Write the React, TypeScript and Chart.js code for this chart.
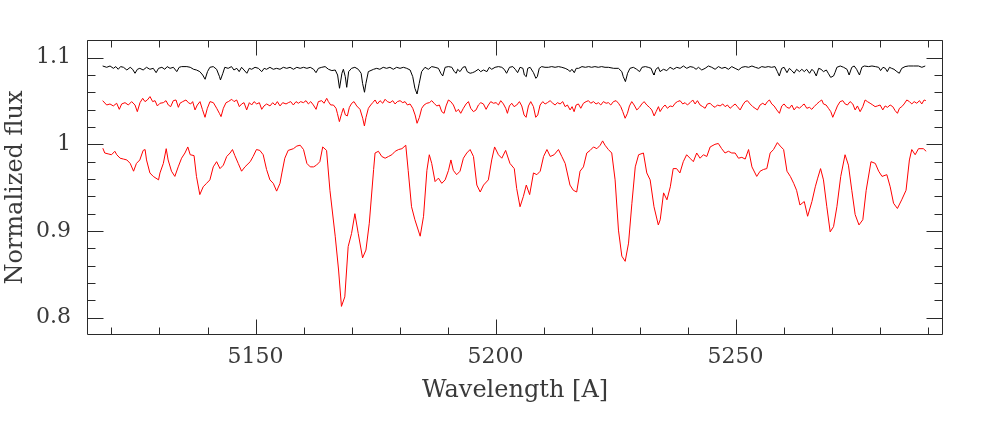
import React, { useEffect, useRef } from "react";
import { Chart, registerables } from "chart.js";

Chart.register(...registerables);

// Axis ticks
const xMajorTicks = [5150, 5200, 5250];
const xMinorTicks = [5120, 5130, 5140, 5160, 5170, 5180, 5190, 5210, 5220, 5230, 5240, 5260, 5270, 5280, 5290];
const yMajorTicks = [0.8, 0.9, 1.0, 1.1];
const yMinorTicks = [0.78, 0.82, 0.84, 0.86, 0.88, 0.92, 0.94, 0.96, 0.98, 1.02, 1.04, 1.06, 1.08, 1.12];
const xRange = [5114.9, 5293.2];
const yRange = [0.78, 1.1204];

// Template spectrum (black), [wavelength, flux]
const templateSpectrum: number[][] = [
  [5118.16, 1.0904], [5119.0, 1.0889], [5119.7, 1.0904], [5120.4, 1.0877], [5120.9, 1.0897], [5121.4, 1.0866], [5121.9, 1.0897], [5122.5, 1.0889], [5123.2, 1.0858], [5123.9, 1.0889],
  [5124.4, 1.0866], [5124.9, 1.082], [5125.4, 1.0866], [5125.9, 1.0877], [5126.6, 1.0858], [5127.3, 1.0889], [5128.0, 1.0866], [5128.7, 1.0877], [5129.3, 1.0827], [5129.8, 1.0877],
  [5130.5, 1.0889], [5131.1, 1.0866], [5131.6, 1.0897], [5132.2, 1.0877], [5132.9, 1.0889], [5133.6, 1.0839], [5134.1, 1.0889], [5134.6, 1.0897], [5135.7, 1.0897], [5136.4, 1.0889],
  [5137.1, 1.0866], [5137.7, 1.0858], [5138.4, 1.0839], [5139.0, 1.08], [5139.5, 1.0751], [5140.0, 1.0839], [5140.5, 1.0889], [5141.2, 1.0897], [5141.9, 1.0866], [5142.5, 1.0781],
  [5142.7, 1.0743], [5143.2, 1.082], [5143.6, 1.0889], [5144.3, 1.0877], [5145.0, 1.0897], [5145.5, 1.0858], [5146.1, 1.0877], [5146.6, 1.0839], [5147.1, 1.0889], [5147.6, 1.0858],
  [5148.2, 1.082], [5148.7, 1.0877], [5149.2, 1.0866], [5149.9, 1.0889], [5150.6, 1.0877], [5151.3, 1.0839], [5151.8, 1.0877], [5152.3, 1.0866], [5153.0, 1.0889], [5153.7, 1.0866],
  [5154.4, 1.0877], [5155.1, 1.0866], [5155.8, 1.0889], [5156.5, 1.0877], [5157.2, 1.0889], [5157.9, 1.0866], [5158.6, 1.0889], [5159.3, 1.0877], [5160.0, 1.0889], [5160.7, 1.0877],
  [5161.4, 1.0889], [5162.1, 1.0866], [5162.6, 1.0827], [5163.1, 1.0877], [5163.8, 1.0889], [5164.5, 1.0897], [5165.2, 1.0866], [5165.9, 1.0851], [5166.6, 1.0858], [5167.1, 1.08],
  [5167.5, 1.0647], [5168.0, 1.082], [5168.3, 1.0866], [5168.7, 1.0781], [5169.0, 1.0658], [5169.4, 1.0839], [5170.0, 1.0877], [5170.7, 1.0889], [5171.4, 1.0866], [5172.0, 1.082],
  [5172.3, 1.0704], [5172.7, 1.0601], [5173.0, 1.0704], [5173.5, 1.0839], [5174.6, 1.0866], [5175.25, 1.0877], [5175.9, 1.0866], [5176.6, 1.0889], [5177.3, 1.0877], [5178.0, 1.0889],
  [5178.7, 1.0866], [5179.4, 1.0889], [5180.1, 1.0877], [5180.8, 1.0889], [5181.5, 1.0877], [5182.2, 1.0858], [5182.75, 1.0781], [5183.2, 1.0647], [5183.65, 1.0581], [5184.1, 1.0704],
  [5184.6, 1.0839], [5185.3, 1.0889], [5186.0, 1.0866], [5186.7, 1.0897], [5187.4, 1.0889], [5188.1, 1.0877], [5188.6, 1.082], [5189.0, 1.0789], [5189.5, 1.0889], [5190.2, 1.0897],
  [5190.9, 1.0889], [5191.4, 1.0839], [5191.8, 1.082], [5192.1, 1.0866], [5192.6, 1.0839], [5193.2, 1.0889], [5193.7, 1.0897], [5194.1, 1.0839], [5194.7, 1.082], [5195.2, 1.0827],
  [5195.7, 1.0839], [5196.4, 1.0866], [5196.9, 1.0839], [5197.5, 1.0858], [5198.2, 1.0839], [5198.7, 1.0889], [5199.2, 1.0866], [5199.9, 1.0889], [5200.6, 1.0897], [5201.3, 1.0889],
  [5201.8, 1.0866], [5202.3, 1.082], [5202.9, 1.0889], [5203.6, 1.0897], [5204.1, 1.0866], [5204.6, 1.0827], [5205.1, 1.0889], [5205.7, 1.0877], [5206.0, 1.08], [5206.4, 1.0781],
  [5206.7, 1.0877], [5207.2, 1.0889], [5207.9, 1.0827], [5208.4, 1.0762], [5208.7, 1.0781], [5209.1, 1.0877], [5209.6, 1.0897], [5210.3, 1.0889], [5211.0, 1.0889], [5211.7, 1.0897],
  [5212.4, 1.0889], [5213.1, 1.0897], [5213.8, 1.0889], [5214.5, 1.0877], [5215.2, 1.0858], [5215.5, 1.0839], [5215.9, 1.0866], [5216.4, 1.0827], [5216.8, 1.0877], [5217.3, 1.0877],
  [5218.0, 1.0897], [5218.7, 1.0889], [5219.4, 1.0897], [5220.0, 1.0889], [5220.7, 1.0897], [5221.4, 1.0889], [5222.1, 1.0897], [5222.8, 1.0889], [5223.5, 1.0889], [5224.6, 1.0877],
  [5225.6, 1.0877], [5226.3, 1.0839], [5226.6, 1.0781], [5227.05, 1.0724], [5227.5, 1.082], [5228.0, 1.0877], [5228.7, 1.0889], [5229.4, 1.0866], [5230.0, 1.0839], [5230.5, 1.0889],
  [5231.2, 1.0897], [5231.8, 1.0889], [5232.4, 1.0877], [5232.8, 1.082], [5233.0, 1.08], [5233.4, 1.0866], [5233.9, 1.0889], [5234.27, 1.0839], [5234.96, 1.0866], [5235.66, 1.0851],
  [5236.35, 1.0889], [5237.05, 1.0866], [5237.74, 1.0889], [5238.44, 1.0877], [5239.13, 1.0904], [5239.83, 1.0877], [5240.52, 1.0897], [5241.21, 1.0889], [5241.77, 1.0866], [5242.26, 1.0889],
  [5242.95, 1.0858], [5243.65, 1.0877], [5244.34, 1.0904], [5245.03, 1.0889], [5245.73, 1.0866], [5246.42, 1.0897], [5247.12, 1.0877], [5247.81, 1.0889], [5248.51, 1.0866], [5249.2, 1.0897],
  [5249.9, 1.0877], [5250.6, 1.0858], [5251.3, 1.0889], [5252.0, 1.0897], [5252.7, 1.0889], [5253.4, 1.0904], [5254.1, 1.0889], [5254.8, 1.0877], [5255.45, 1.0897], [5256.15, 1.0889],
  [5256.8, 1.0897], [5257.5, 1.0889], [5258.2, 1.0897], [5258.7, 1.0839], [5259.1, 1.0789], [5259.6, 1.0877], [5260.1, 1.0889], [5260.7, 1.0827], [5261.2, 1.0877], [5261.7, 1.0851],
  [5262.2, 1.082], [5262.7, 1.0866], [5263.3, 1.0839], [5263.8, 1.0866], [5264.3, 1.0839], [5264.8, 1.0866], [5265.4, 1.082], [5265.9, 1.0866], [5266.35, 1.0839], [5266.8, 1.0789],
  [5267.3, 1.0877], [5267.8, 1.0866], [5268.3, 1.0839], [5268.9, 1.0858], [5269.3, 1.082], [5269.8, 1.0773], [5270.4, 1.0789], [5270.7, 1.0827], [5271.1, 1.0889], [5271.8, 1.0904],
  [5272.5, 1.0889], [5273.2, 1.0866], [5273.65, 1.08], [5274.2, 1.0889], [5274.7, 1.0904], [5275.2, 1.0866], [5275.8, 1.08], [5276.3, 1.0889], [5276.8, 1.0904], [5277.7, 1.0897],
  [5278.4, 1.0904], [5279.1, 1.0897], [5279.8, 1.0889], [5280.2, 1.0851], [5280.7, 1.0889], [5281.2, 1.0877], [5281.6, 1.0839], [5282.05, 1.0889], [5282.5, 1.0877], [5283.0, 1.0866],
  [5283.6, 1.0839], [5284.1, 1.082], [5284.6, 1.0877], [5285.3, 1.0897], [5286.0, 1.0904], [5287.05, 1.0904], [5288.1, 1.0904], [5288.8, 1.0889], [5289.5, 1.0904],
];

// Noisy observed spectrum (red, middle), [wavelength, flux]
const observedSpectrum: number[][] = [
  [5118.16, 1.0504], [5119.0, 1.0454], [5119.69, 1.0466], [5120.38, 1.0443], [5121.08, 1.0474], [5121.63, 1.0404], [5122.12, 1.0466], [5122.82, 1.0481], [5123.51, 1.0454], [5124.2, 1.0493],
  [5124.9, 1.0454], [5125.38, 1.0377], [5125.94, 1.0481], [5126.5, 1.0531], [5126.98, 1.0493], [5127.47, 1.0512], [5128.02, 1.0551], [5128.58, 1.0493], [5129.07, 1.0504], [5129.55, 1.0443],
  [5130.11, 1.0474], [5130.8, 1.0481], [5131.36, 1.0504], [5131.84, 1.0454], [5132.33, 1.0435], [5132.88, 1.0504], [5133.44, 1.0512], [5133.93, 1.0427], [5134.27, 1.0474], [5134.83, 1.0493],
  [5135.52, 1.0512], [5136.01, 1.0481], [5136.5, 1.0466], [5136.91, 1.0493], [5137.4, 1.0397], [5137.88, 1.0454], [5138.44, 1.0493], [5138.93, 1.0404], [5139.48, 1.0312], [5139.97, 1.0416],
  [5140.52, 1.0493], [5141.22, 1.0481], [5141.91, 1.0416], [5142.47, 1.0358], [5142.82, 1.032], [5143.3, 1.0416], [5143.86, 1.0481], [5144.34, 1.0493], [5145.04, 1.052], [5145.52, 1.0493],
  [5146.08, 1.0512], [5146.63, 1.0435], [5147.12, 1.0466], [5147.61, 1.0481], [5148.16, 1.0397], [5148.72, 1.0481], [5149.2, 1.0454], [5149.69, 1.0493], [5150.25, 1.0466], [5150.8, 1.0481],
  [5151.29, 1.0404], [5151.77, 1.0443], [5152.33, 1.0466], [5153.02, 1.0443], [5153.58, 1.0481], [5154.07, 1.0454], [5154.55, 1.0493], [5155.11, 1.0443], [5155.66, 1.0481], [5156.36, 1.0466],
  [5156.84, 1.0481], [5157.33, 1.0493], [5157.88, 1.0454], [5158.44, 1.0493], [5158.93, 1.0474], [5159.41, 1.0493], [5159.97, 1.0481], [5160.52, 1.0504], [5161.01, 1.0466], [5161.5, 1.0493],
  [5162.05, 1.0454], [5162.61, 1.0404], [5163.09, 1.0493], [5163.79, 1.0504], [5164.27, 1.0474], [5164.83, 1.0531], [5165.18, 1.0493], [5165.66, 1.0454], [5166.22, 1.0454], [5166.77, 1.0416],
  [5167.05, 1.0358], [5167.47, 1.0262], [5167.95, 1.0358], [5168.3, 1.0416], [5168.72, 1.0339], [5169.13, 1.0328], [5169.55, 1.0427], [5170.04, 1.0474], [5170.52, 1.0493], [5171.08, 1.0443],
  [5171.77, 1.0404], [5172.33, 1.0301], [5172.68, 1.0212], [5173.02, 1.0312], [5173.51, 1.0416], [5174.0, 1.0454], [5174.42, 1.0481], [5174.9, 1.0512], [5175.39, 1.0466], [5175.94, 1.0504],
  [5176.5, 1.0474], [5176.99, 1.052], [5177.47, 1.0493], [5178.03, 1.0481], [5178.58, 1.0504], [5179.07, 1.0466], [5179.55, 1.0493], [5180.11, 1.0504], [5180.67, 1.0481], [5181.15, 1.0493],
  [5181.64, 1.0454], [5182.19, 1.0466], [5182.75, 1.0416], [5183.24, 1.0339], [5183.65, 1.0243], [5184.14, 1.0312], [5184.62, 1.0416], [5185.11, 1.0454], [5185.67, 1.0474], [5186.22, 1.0481],
  [5186.71, 1.0504], [5187.19, 1.0474], [5187.75, 1.0443], [5188.3, 1.0454], [5188.79, 1.0377], [5189.28, 1.0358], [5189.69, 1.0443], [5190.18, 1.0512], [5190.67, 1.0493], [5191.22, 1.0454],
  [5191.78, 1.0377], [5192.26, 1.0404], [5192.75, 1.0358], [5193.3, 1.0416], [5193.86, 1.0466], [5194.35, 1.0493], [5194.83, 1.0416], [5195.39, 1.0377], [5195.94, 1.0397], [5196.43, 1.0454],
  [5196.92, 1.0481], [5197.47, 1.0466], [5198.03, 1.0404], [5198.51, 1.0454], [5199.0, 1.0493], [5199.55, 1.0474], [5200.11, 1.0481], [5200.6, 1.0454], [5201.08, 1.0504], [5201.64, 1.0466],
  [5202.12, 1.0416], [5202.47, 1.0358], [5202.89, 1.0443], [5203.37, 1.0474], [5203.86, 1.0435], [5204.42, 1.0454], [5204.97, 1.0493], [5205.46, 1.0443], [5205.94, 1.0339], [5206.36, 1.0312],
  [5206.85, 1.0443], [5207.33, 1.0493], [5207.89, 1.0435], [5208.37, 1.0312], [5208.79, 1.0339], [5209.28, 1.0454], [5209.83, 1.0493], [5210.32, 1.0466], [5210.8, 1.0481], [5211.36, 1.0504],
  [5211.92, 1.0474], [5212.4, 1.0454], [5212.89, 1.0481], [5213.44, 1.0466], [5214.0, 1.0493], [5214.49, 1.0435], [5214.97, 1.0454], [5215.53, 1.0397], [5215.94, 1.0435], [5216.36, 1.0377],
  [5216.78, 1.0454], [5217.26, 1.0466], [5217.75, 1.0416], [5218.3, 1.0474], [5218.86, 1.0493], [5219.35, 1.0504], [5219.83, 1.0474], [5220.39, 1.0493], [5220.94, 1.0466], [5221.43, 1.0481],
  [5221.92, 1.0454], [5222.47, 1.0493], [5223.03, 1.0474], [5223.51, 1.0481], [5224.0, 1.0454], [5224.55, 1.0493], [5225.11, 1.0504], [5225.6, 1.0474], [5226.08, 1.0435], [5226.5, 1.0377],
  [5226.99, 1.0301], [5227.47, 1.0358], [5227.89, 1.0443], [5228.37, 1.0493], [5228.86, 1.0454], [5229.42, 1.0397], [5229.97, 1.0427], [5230.46, 1.0466], [5230.94, 1.0493], [5231.5, 1.0454],
  [5232.05, 1.0427], [5232.54, 1.0397], [5233.03, 1.0328], [5233.44, 1.0377], [5233.93, 1.0435], [5234.27, 1.0378], [5234.83, 1.0427], [5235.31, 1.0454], [5235.8, 1.0416], [5236.35, 1.0443],
  [5236.91, 1.0435], [5237.4, 1.0474], [5237.88, 1.0493], [5238.44, 1.0504], [5238.99, 1.0466], [5239.48, 1.0481], [5239.96, 1.0454], [5240.52, 1.0481], [5241.08, 1.0512], [5241.56, 1.0466],
  [5242.05, 1.0504], [5242.6, 1.0454], [5243.16, 1.0435], [5243.65, 1.0416], [5244.13, 1.0466], [5244.69, 1.0474], [5245.24, 1.0443], [5245.73, 1.0427], [5246.21, 1.0454], [5246.77, 1.0443],
  [5247.33, 1.0466], [5247.81, 1.0435], [5248.3, 1.0454], [5248.85, 1.0416], [5249.41, 1.0443], [5249.9, 1.0466], [5250.38, 1.0435], [5250.94, 1.0397], [5251.49, 1.0454], [5251.98, 1.0493],
  [5252.46, 1.0504], [5253.02, 1.0466], [5253.58, 1.0435], [5254.06, 1.0416], [5254.55, 1.0397], [5255.1, 1.0454], [5255.66, 1.0474], [5256.15, 1.0454], [5256.63, 1.0493], [5257.05, 1.0512],
  [5257.53, 1.0466], [5258.02, 1.0443], [5258.58, 1.0397], [5259.13, 1.0358], [5259.62, 1.0443], [5260.1, 1.0466], [5260.66, 1.0427], [5261.21, 1.0416], [5261.7, 1.0454], [5262.19, 1.0397],
  [5262.74, 1.0435], [5263.3, 1.0416], [5263.78, 1.0443], [5264.27, 1.0466], [5264.83, 1.0416], [5265.38, 1.0427], [5265.87, 1.0404], [5266.35, 1.0435], [5266.91, 1.0466], [5267.46, 1.0493],
  [5267.95, 1.0512], [5268.3, 1.0466], [5268.85, 1.0454], [5269.34, 1.0416], [5269.83, 1.0377], [5270.24, 1.0312], [5270.73, 1.0377], [5271.21, 1.0443], [5271.77, 1.0493], [5272.33, 1.0504],
  [5272.81, 1.0466], [5273.3, 1.0454], [5273.85, 1.0493], [5274.41, 1.0466], [5274.9, 1.0397], [5275.38, 1.0443], [5275.94, 1.0377], [5276.49, 1.0435], [5276.98, 1.0512], [5277.46, 1.0493],
  [5278.02, 1.0474], [5278.58, 1.0454], [5279.06, 1.0435], [5279.55, 1.0443], [5280.1, 1.0454], [5280.66, 1.0397], [5281.15, 1.0443], [5281.63, 1.0427], [5282.19, 1.0454], [5282.74, 1.0435],
  [5283.23, 1.0389], [5283.71, 1.0358], [5284.13, 1.0416], [5284.62, 1.0435], [5285.1, 1.0466], [5285.66, 1.0512], [5286.21, 1.0493], [5286.7, 1.0466], [5287.19, 1.0493], [5287.74, 1.0474],
  [5288.3, 1.0504], [5288.78, 1.0466], [5289.27, 1.0512], [5289.62, 1.0504],
];

// Broad-lined star spectrum (red, bottom), [wavelength, flux]
const starSpectrum: number[][] = [
  [5118.2, 0.9955], [5118.6, 0.99], [5119.3, 0.989], [5120.0, 0.988], [5120.7, 0.992], [5121.1, 0.988], [5121.8, 0.984], [5122.5, 0.983], [5123.2, 0.982], [5123.9, 0.978],
  [5124.6, 0.969], [5125.2, 0.978], [5125.9, 0.982], [5126.6, 0.993], [5127.0, 0.994], [5127.3, 0.982], [5128.0, 0.967], [5128.7, 0.963], [5129.8, 0.959], [5130.1, 0.967],
  [5130.8, 0.978], [5131.4, 0.995], [5131.8, 0.982], [5132.5, 0.969], [5133.2, 0.963], [5133.9, 0.974], [5134.6, 0.984], [5135.3, 0.99], [5135.9, 0.997], [5136.4, 0.988],
  [5137.2, 0.987], [5137.7, 0.963], [5138.4, 0.942], [5139.1, 0.951], [5139.8, 0.955], [5140.5, 0.959], [5141.2, 0.974], [5141.9, 0.98], [5142.6, 0.972], [5143.3, 0.976],
  [5144.0, 0.986], [5144.7, 0.99], [5145.2, 0.994], [5145.7, 0.987], [5146.4, 0.978], [5147.1, 0.969], [5147.8, 0.974], [5148.9, 0.98], [5149.5, 0.986], [5150.2, 0.994],
  [5150.9, 0.993], [5151.6, 0.988], [5152.3, 0.971], [5153.0, 0.959], [5153.7, 0.955], [5154.4, 0.946], [5155.1, 0.955], [5155.5, 0.967], [5156.1, 0.984], [5156.8, 0.993],
  [5157.9, 0.995], [5158.6, 0.998], [5159.3, 0.999], [5160.0, 0.994], [5160.7, 0.978], [5161.4, 0.974], [5162.1, 0.974], [5162.7, 0.976], [5163.4, 0.98], [5164.0, 0.997],
  [5164.8, 0.993], [5165.5, 0.947], [5166.6, 0.894], [5167.3, 0.855], [5167.9, 0.813], [5168.6, 0.824], [5169.3, 0.882], [5170.0, 0.897], [5170.7, 0.92], [5171.4, 0.897],
  [5172.3, 0.869], [5173.0, 0.878], [5173.7, 0.909], [5174.6, 0.971], [5174.9, 0.99], [5175.6, 0.992], [5176.3, 0.986], [5177.0, 0.984], [5177.7, 0.986], [5178.4, 0.988],
  [5179.1, 0.992], [5179.8, 0.994], [5180.5, 0.995], [5181.3, 0.999], [5181.8, 0.97], [5182.5, 0.928], [5183.2, 0.913], [5184.3, 0.894], [5185.0, 0.917], [5185.7, 0.97],
  [5186.2, 0.988], [5186.7, 0.978], [5187.4, 0.957], [5188.1, 0.961], [5188.8, 0.955], [5189.5, 0.959], [5190.2, 0.97], [5190.7, 0.982], [5191.2, 0.97], [5191.9, 0.965],
  [5192.6, 0.969], [5193.3, 0.984], [5194.0, 0.99], [5194.7, 0.994], [5195.4, 0.986], [5196.1, 0.953], [5196.8, 0.945], [5197.5, 0.953], [5198.5, 0.959], [5199.2, 0.982],
  [5199.8, 0.997], [5200.6, 0.988], [5201.3, 0.984], [5202.1, 0.993], [5203.0, 0.978], [5203.9, 0.972], [5204.4, 0.949], [5205.1, 0.928], [5205.8, 0.94], [5206.4, 0.953],
  [5207.1, 0.942], [5207.9, 0.967], [5208.6, 0.965], [5209.3, 0.969], [5210.0, 0.986], [5210.7, 0.994], [5211.4, 0.986], [5212.2, 0.988], [5213.1, 0.994], [5213.8, 0.986],
  [5214.5, 0.978], [5215.5, 0.953], [5216.2, 0.947], [5216.9, 0.945], [5217.6, 0.969], [5218.3, 0.974], [5219.0, 0.99], [5219.7, 0.993], [5220.4, 0.997], [5221.1, 0.995],
  [5221.8, 0.999], [5222.3, 1.004], [5222.8, 0.999], [5223.5, 0.994], [5224.2, 0.99], [5224.9, 0.959], [5225.6, 0.901], [5226.3, 0.871], [5227.0, 0.865], [5227.7, 0.886],
  [5228.4, 0.932], [5229.1, 0.974], [5229.8, 0.988], [5230.8, 0.99], [5231.5, 0.967], [5232.2, 0.959], [5233.0, 0.928], [5233.9, 0.907], [5234.3, 0.913], [5235.0, 0.944],
  [5235.7, 0.936], [5236.4, 0.951], [5237.0, 0.972], [5237.7, 0.972], [5238.4, 0.967], [5239.1, 0.98], [5239.8, 0.988], [5240.5, 0.984], [5241.2, 0.98], [5241.9, 0.99],
  [5242.6, 0.984], [5243.3, 0.988], [5244.0, 0.986], [5244.7, 0.997], [5245.7, 1.0], [5246.4, 1.001], [5247.1, 0.995], [5247.8, 0.99], [5248.5, 0.992], [5249.2, 0.99],
  [5249.9, 0.99], [5250.6, 0.984], [5251.3, 0.985], [5252.0, 0.983], [5252.7, 0.994], [5253.4, 0.974], [5254.4, 0.963], [5255.1, 0.969], [5255.8, 0.971], [5256.5, 0.972],
  [5257.2, 0.99], [5257.9, 0.994], [5258.7, 1.002], [5259.3, 0.998], [5260.0, 0.994], [5260.7, 0.969], [5261.4, 0.963], [5262.1, 0.955], [5262.7, 0.947], [5263.4, 0.93],
  [5264.3, 0.934], [5265.0, 0.917], [5265.9, 0.934], [5266.6, 0.951], [5267.1, 0.961], [5267.7, 0.972], [5268.3, 0.959], [5269.0, 0.928], [5269.7, 0.899], [5270.4, 0.905],
  [5271.1, 0.928], [5271.9, 0.963], [5272.8, 0.988], [5273.5, 0.976], [5274.2, 0.947], [5274.9, 0.919], [5275.7, 0.907], [5276.5, 0.913], [5277.2, 0.947], [5278.2, 0.98],
  [5279.1, 0.978], [5279.8, 0.969], [5280.5, 0.963], [5281.5, 0.965], [5282.2, 0.951], [5282.9, 0.932], [5283.7, 0.926], [5284.6, 0.936], [5285.5, 0.947], [5286.2, 0.982],
  [5286.7, 0.994], [5287.4, 0.988], [5288.1, 0.995], [5289.1, 0.995], [5289.7, 0.992],
];

const FONT = "'DejaVu Serif', 'Liberation Serif', serif";
const INK = "#2a2a2a";
const TEXT = "#3a3a3a";

const frameTicks = {
  id: "frameTicks",
  afterDatasetsDraw(chart: any) {
    const { ctx, chartArea, scales } = chart;
    const xs = scales.x;
    const ys = scales.y;
    const L = Math.round(chartArea.left) + 0.5;
    const R = Math.round(chartArea.right) - 0.5;
    const T = Math.round(chartArea.top) + 0.5;
    const B = Math.round(chartArea.bottom) - 0.5;
    ctx.save();
    ctx.strokeStyle = INK;
    ctx.lineWidth = 1;
    ctx.beginPath();
    ctx.rect(L, T, R - L, B - T);
    const xt = (v: number, len: number) => {
      const p = Math.round(xs.getPixelForValue(v)) + 0.5;
      ctx.moveTo(p, B);
      ctx.lineTo(p, B - len);
      ctx.moveTo(p, T);
      ctx.lineTo(p, T + len);
    };
    const yt = (v: number, len: number) => {
      const p = Math.round(ys.getPixelForValue(v)) + 0.5;
      ctx.moveTo(L, p);
      ctx.lineTo(L + len, p);
      ctx.moveTo(R, p);
      ctx.lineTo(R - len, p);
    };
    xMajorTicks.forEach((v) => xt(v, 15));
    xMinorTicks.forEach((v) => xt(v, 7));
    yMajorTicks.forEach((v) => yt(v, 16));
    yMinorTicks.forEach((v) => {
      if (v > yRange[0] && v < yRange[1]) yt(v, 8);
    });
    ctx.stroke();
    ctx.restore();
  },
};

const toPoints = (arr: number[][]) => arr.map(([x, y]) => ({ x, y }));

export default function App() {
  const ref = useRef<HTMLCanvasElement | null>(null);

  useEffect(() => {
    if (!ref.current) return;
    const chart = new Chart(ref.current, {
      type: "line",
      data: {
        datasets: [
          {
            label: "template",
            data: toPoints(templateSpectrum),
            borderColor: "#000000",
            borderWidth: 1,
            pointRadius: 0,
            tension: 0,
          },
          {
            label: "observed",
            data: toPoints(observedSpectrum),
            borderColor: "#ff0000",
            borderWidth: 1,
            pointRadius: 0,
            tension: 0,
          },
          {
            label: "star",
            data: toPoints(starSpectrum),
            borderColor: "#ff0000",
            borderWidth: 1,
            pointRadius: 0,
            tension: 0,
          },
        ],
      },
      options: {
        animation: false,
        responsive: false,
        devicePixelRatio: 1,
        layout: { padding: { left: 0, right: 38, top: 40, bottom: 0 } },
        plugins: { legend: { display: false }, tooltip: { enabled: false } },
        scales: {
          x: {
            type: "linear",
            min: xRange[0],
            max: xRange[1],
            grid: { display: false, drawTicks: false },
            border: { display: false },
            afterBuildTicks: (s: any) => {
              s.ticks = xMajorTicks.map((value) => ({ value }));
            },
            afterFit: (s: any) => {
              s.height = 88;
              s.paddingLeft = 0;
              s.paddingRight = 0;
            },
            ticks: {
              padding: 9,
              maxRotation: 0,
              color: TEXT,
              font: { family: FONT, size: 22 },
              callback: (v: any) => String(v),
            },
            title: {
              display: true,
              text: "Wavelength [A]",
              color: TEXT,
              font: { family: FONT, size: 24 },
              padding: { top: 0, bottom: 18 },
            },
          },
          y: {
            type: "linear",
            min: yRange[0],
            max: yRange[1],
            grid: { display: false, drawTicks: false },
            border: { display: false },
            afterBuildTicks: (s: any) => {
              s.ticks = yMajorTicks.map((value) => ({ value }));
            },
            afterFit: (s: any) => {
              s.width = 87;
            },
            ticks: {
              padding: 16,
              color: TEXT,
              font: { family: FONT, size: 22 },
              callback: (v: any) => String(Number(Number(v).toFixed(2))),
            },
            title: {
              display: true,
              text: "Normalized flux",
              color: TEXT,
              font: { family: FONT, size: 24 },
              padding: { top: 1, bottom: 0 },
            },
          },
        },
      },
      plugins: [frameTicks],
    });
    return () => chart.destroy();
  }, []);

  return (
    <div style={{ position: "fixed", left: 0, top: 0, width: 981, height: 423, background: "#ffffff" }}>
      <canvas ref={ref} width={981} height={423} style={{ display: "block", width: 981, height: 423 }} />
    </div>
  );
}
